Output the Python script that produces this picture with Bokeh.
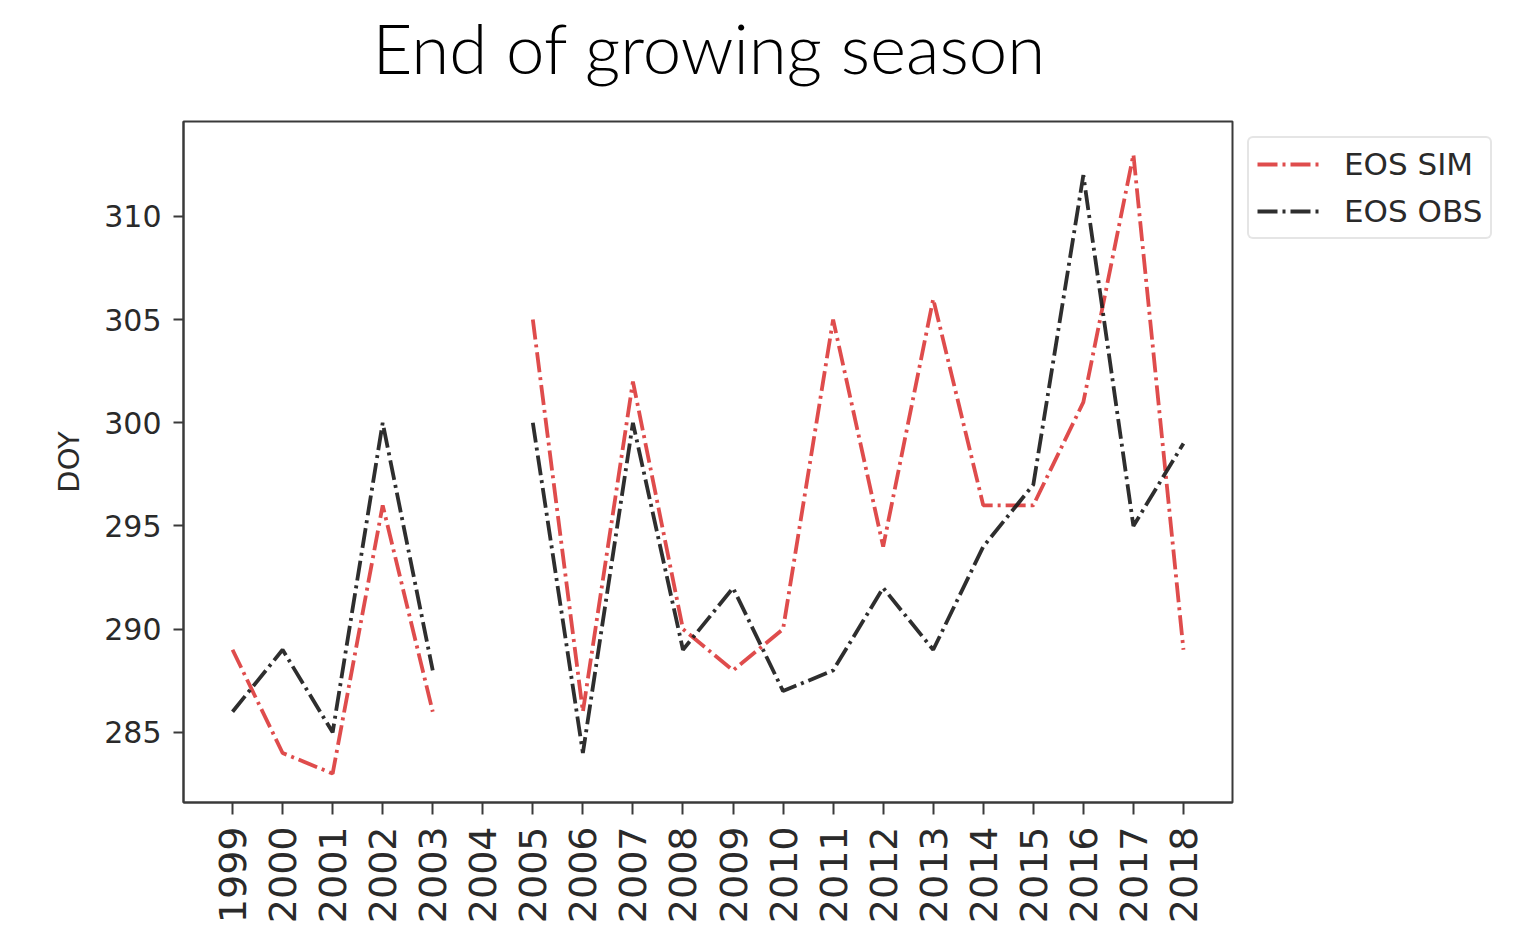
import math
from bokeh.plotting import figure
from bokeh.layouts import column
from bokeh.models import Range1d, FixedTicker, Legend, LegendItem, ColumnDataSource
from bokeh.embed import file_html
from bokeh.resources import INLINE

nan = float("nan")

years = list(range(1999, 2019))
eos_sim = [289, 284, 283, 296, 286, nan, 305, 286, 302, 290, 288, 290,
           305, 294, 306, 296, 296, 301, 313, 289]
eos_obs = [286, 289, 285, 300, 288, nan, 300, 284, 300, 289, 292, 287,
           288, 292, 289, 294, 297, 312, 295, 299]
y_ticks = [285, 290, 295, 300, 305, 310]
title_text = "End of growing season"

src = ColumnDataSource(dict(year=years, sim=eos_sim, obs=eos_obs))

# Header strip: an empty plot whose only visible part is its title
head = figure(width=1522, height=119, output_backend="svg", toolbar_location=None,
              x_range=Range1d(0, 1), y_range=Range1d(0, 1), title=title_text,
              min_border_left=183, min_border_right=290, min_border_top=0,
              min_border_bottom=26)
head.axis.visible = False
head.grid.visible = False
head.outline_line_color = None
head.title.text_font = "Lato Light, Lato"
head.title.text_font_size = "69px"
head.title.text_font_style = "normal"
head.title.text_color = "#000000"
head.title.align = "left"
head.title.offset = 189
head.title.standoff = 6

p = figure(frame_width=1049, frame_height=681, output_backend="svg", toolbar_location=None,
           x_range=Range1d(1998.02, 2018.98), y_range=Range1d(281.6, 314.6),
           min_border_left=183, min_border_right=290, min_border_top=2,
           min_border_bottom=130)

p.grid.visible = False
p.background_fill_color = "white"
p.border_fill_color = "white"
p.outline_line_color = "#3a3a3a"
p.outline_line_width = 2

dash = "20 5 3 5"
r_sim = p.line("year", "sim", source=src, line_color="#dc3d3d", line_width=3.8,
               line_dash=dash, line_alpha=0.92)
r_obs = p.line("year", "obs", source=src, line_color="#1c1c1c", line_width=3.8,
               line_dash=dash, line_alpha=0.92)

for ax in (p.xaxis[0], p.yaxis[0]):
    ax.axis_line_color = "#3a3a3a"
    ax.axis_line_width = 2
    ax.major_tick_line_color = "#3a3a3a"
    ax.major_tick_line_width = 2
    ax.major_tick_in = 0
    ax.minor_tick_line_color = None
    ax.major_label_text_font = "DejaVu Sans"
    ax.major_label_text_color = "#2a2a2a"

p.xaxis.ticker = FixedTicker(ticks=years)
p.xaxis.major_label_orientation = math.pi / 2
p.xaxis.major_label_text_font_size = "38px"
p.xaxis.major_tick_out = 12
p.xaxis.major_label_standoff = 12

p.yaxis.ticker = FixedTicker(ticks=y_ticks)
p.yaxis.major_label_text_font_size = "30px"
p.yaxis.major_tick_out = 10
p.yaxis.major_label_standoff = 12
p.yaxis.axis_label = "DOY"
p.yaxis.axis_label_text_font = "DejaVu Sans"
p.yaxis.axis_label_text_font_size = "29px"
p.yaxis.axis_label_text_font_style = "normal"
p.yaxis.axis_label_text_color = "#2a2a2a"
p.yaxis.axis_label_standoff = 15

legend = Legend(items=[LegendItem(label="EOS SIM", renderers=[r_sim]),
                       LegendItem(label="EOS OBS", renderers=[r_obs])],
                location="top_left")
legend.label_text_font = "DejaVu Sans"
legend.label_text_font_size = "31px"
legend.label_text_color = "#2a2a2a"
legend.glyph_width = 62
legend.glyph_height = 32
legend.label_height = 32
legend.label_standoff = 25
legend.spacing = 11
legend.padding = 8
legend.margin = 15
legend.border_line_color = "#cccccc"
legend.border_line_width = 2
legend.border_radius = 6
legend.background_fill_color = "white"
legend.background_fill_alpha = 1.0
p.add_layout(legend, "right")

layout = column(head, p, spacing=0)
open("out.html", "w").write(file_html(layout, INLINE))
